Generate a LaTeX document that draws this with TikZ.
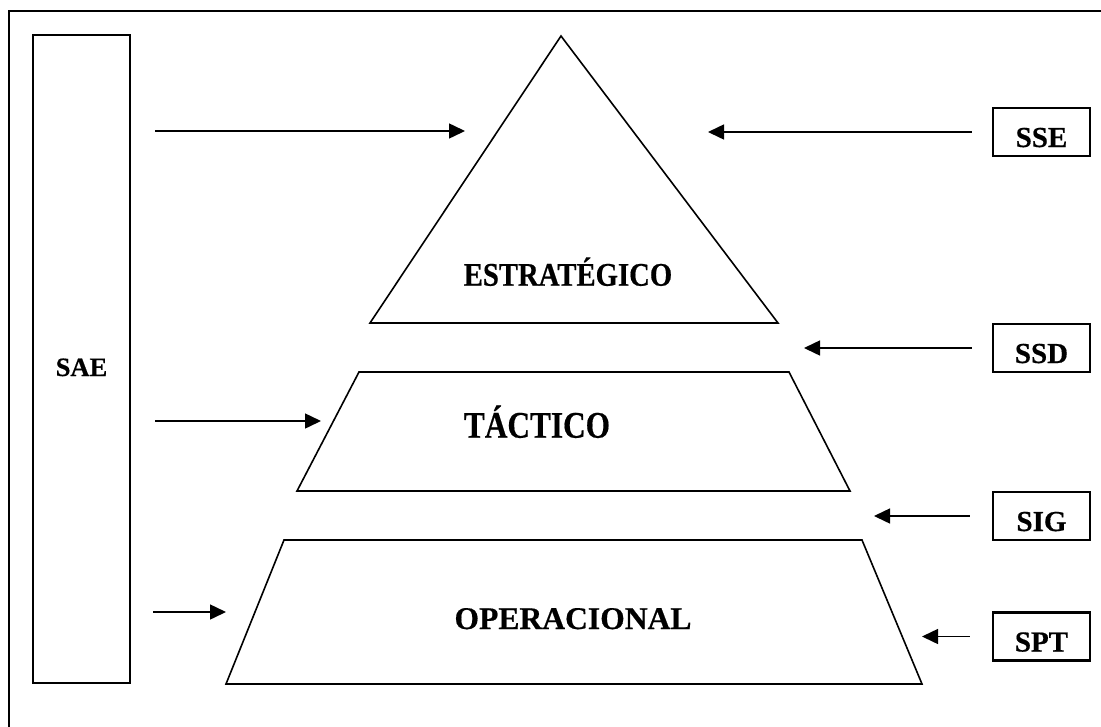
\documentclass[tikz,border=0pt]{standalone}
\usepackage{fontspec}
\setmainfont{Liberation Serif}[BoldFeatures={FakeBold=0.5}]
\usetikzlibrary{arrows.meta}
\begin{document}
\begin{tikzpicture}[x=1pt,y=-1pt,
  rbox/.style={draw,line width=2.2pt,minimum width=97pt,minimum height=48pt,inner sep=0pt,
    text height=30pt,text depth=0pt,font=\fontsize{29}{29}\selectfont\bfseries},
  shapeline/.style={draw,line width=1.6pt,line join=miter},
  arr/.style={line width=1.5pt,-{Triangle[length=16pt,width=15pt]}},
  lvl/.style={anchor=base,inner sep=0pt}]
\useasboundingbox (0,0) rectangle (1101,726);
\clip (0,0) rectangle (1101,726);
% outer frame (runs off the right and bottom)
\draw[line width=2pt] (8.5,11) rectangle (1130,760);

% left SAE column
\node[draw,line width=2.2pt,minimum width=97pt,minimum height=648pt,inner sep=0pt,
  text height=34pt,text depth=0pt,font=\fontsize{26.5}{26.5}\selectfont\bfseries] (sae) at (81.5,359) {SAE};

% pyramid levels
\draw[shapeline] (561,36) -- (778,323) -- (370,323) -- cycle;
\draw[shapeline] (359,372) -- (789,372) -- (850,491) -- (297,491) -- cycle;
\draw[shapeline] (284,540) -- (862,540) -- (922,684) -- (226,684) -- cycle;

\node[lvl,font=\fontsize{28.7}{28.7}\selectfont\bfseries] (est) at (568,285.7) {\scalebox{1}[1.15]{ESTRATÉGICO}};
\node[lvl,font=\fontsize{31.3}{31.3}\selectfont\bfseries] (tac) at (537,437.7) {\scalebox{1}[1.2]{TÁCTICO}};
\node[lvl,font=\fontsize{31.6}{31.6}\selectfont\bfseries] (ope) at (573,629) {OPERACIONAL};

% right boxes
\node[rbox] (sse) at (1041.5,132) {SSE};
\node[rbox] (ssd) at (1041.5,348) {SSD};
\node[rbox] (sig) at (1041.5,516) {SIG};
\node[rbox] (spt) at (1041.5,636.5) {SPT};

% arrow end points
\coordinate (a1s) at (155,131);
\coordinate (a1e) at (465,131);
\coordinate (a2s) at (155,421);
\coordinate (a2e) at (321,421);
\coordinate (a3s) at (153,612);
\coordinate (a3e) at (226,612);
\coordinate (b1e) at (708,132);
\coordinate (b2e) at (804,348);
\coordinate (b3e) at (874,516);
\coordinate (b4e) at (922,636.5);

\draw[arr] (a1s) -- (a1e);
\draw[arr] (a2s) -- (a2e);
\draw[arr] (a3s) -- (a3e);
\draw[arr] ([xshift=-20pt]sse.west) -- (b1e);
\draw[arr] ([xshift=-20pt]ssd.west) -- (b2e);
\draw[arr] ([xshift=-22pt]sig.west) -- (b3e);
\draw[arr] ([xshift=-22pt]spt.west) -- (b4e);
\end{tikzpicture}
\end{document}
